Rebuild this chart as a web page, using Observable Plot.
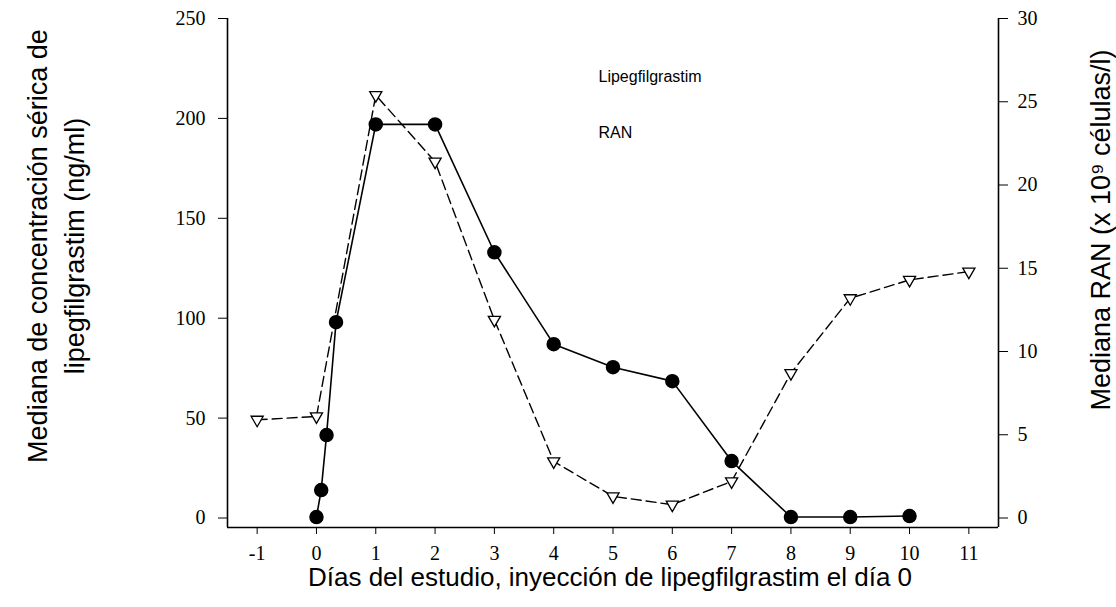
<!DOCTYPE html>
<html>
<head>
<meta charset="utf-8">
<script src="https://cdn.jsdelivr.net/npm/d3@7"></script>
<script src="https://cdn.jsdelivr.net/npm/@observablehq/plot@0.6"></script>
<style>
  html, body { margin: 0; padding: 0; background: #fff; }
  #chart { width: 1116px; height: 607px; }
</style>
</head>
<body>
<div id="chart"></div>
<script>
// Lipegfilgrastim serum concentration (ng/ml), left axis
const lipegDays = [0, 0.08, 0.17, 0.33, 1, 2, 3, 4, 5, 6, 7, 8, 9, 10];
const lipegValues = [0.5, 14, 41.5, 98, 197, 197, 133, 87, 75.5, 68.5, 28.5, 0.5, 0.5, 1];

// Median ANC / RAN (x 10^9 cells/l), right axis
const ranDays = [-1, 0, 1, 2, 3, 4, 5, 6, 7, 8, 9, 10, 11];
const ranValues = [5.9, 6.1, 25.4, 21.4, 11.9, 3.4, 1.3, 0.8, 2.2, 8.7, 13.2, 14.3, 14.8];

const xTicks = [-1, 0, 1, 2, 3, 4, 5, 6, 7, 8, 9, 10, 11];
const leftTicks = [0, 50, 100, 150, 200, 250];
const rightTicks = [0, 5, 10, 15, 20, 25, 30];

const legendLabels = ["Lipegfilgrastim", "RAN"];
const xTitle = "Días del estudio, inyección de lipegfilgrastim el día 0";
const yLeftTitle = ["Mediana de concentración sérica de", "lipegfilgrastim (ng/ml)"];
const yRightTitle = "Mediana RAN (x 10⁹ células/l)";

const xDomain = [-1.5, 11.5];
const yDomain = [-4.75, 250];
const k = 250 / 30; // right-axis units to left-axis units

const lipeg = lipegDays.map((d, i) => ({day: d, value: lipegValues[i]}));
const ran = ranDays.map((d, i) => ({day: d, value: ranValues[i] * k}));

const serif = "Liberation Serif, Times New Roman, serif";
const sans = "Liberation Sans, Arial, sans-serif";

const chart = Plot.plot({
  width: 1116,
  height: 607,
  marginLeft: 227,
  marginRight: 118,
  marginTop: 18,
  marginBottom: 80,
  style: {fontFamily: serif, fontSize: "20px", background: "#fff", color: "#000"},
  x: {domain: xDomain},
  y: {domain: yDomain},
  marks: [
    Plot.ruleX([xDomain[0], xDomain[1]], {stroke: "#000", strokeWidth: 1.6}),
    Plot.ruleY([yDomain[0]], {stroke: "#000", strokeWidth: 1.6}),
    Plot.axisX(xTicks, {anchor: "bottom", tickSize: 7, tickPadding: 11, tickFormat: d => String(d), label: null, fontFamily: serif, fontSize: 20}),
    Plot.axisY(leftTicks, {anchor: "left", tickSize: 9, tickPadding: 13, tickFormat: d => String(d), label: null, fontFamily: serif, fontSize: 20}),
    Plot.axisY(rightTicks.map(r => r * k), {anchor: "right", tickSize: 9, tickPadding: 10, tickFormat: d => String(Math.round(d / k)), label: null, fontFamily: serif, fontSize: 20}),
    Plot.line(ran, {x: "day", y: "value", stroke: "#000", strokeWidth: 1.4, strokeDasharray: "10,5"}),
    Plot.line(lipeg, {x: "day", y: "value", stroke: "#000", strokeWidth: 1.6}),
    Plot.dot(ran, {x: "day", y: "value", symbol: "triangle", rotate: 180, r: 4.5, fill: "#fff", stroke: "#000", strokeWidth: 1.3}),
    Plot.dot(lipeg, {x: "day", y: "value", r: 6.5, fill: "#000", stroke: "#000"}),
    Plot.text([legendLabels[0]], {frameAnchor: "top-left", text: d => d, dx: 371, dy: 52, textAnchor: "start", fontFamily: sans, fontSize: 16}),
    Plot.text([legendLabels[1]], {frameAnchor: "top-left", text: d => d, dx: 371, dy: 108, textAnchor: "start", fontFamily: sans, fontSize: 16}),
    Plot.text([xTitle], {frameAnchor: "bottom", text: d => d, dx: -3, dy: 58, fontFamily: sans, fontSize: 26})
  ]
});

document.getElementById("chart").appendChild(chart);

// rotated axis titles
const svg = d3.select(chart);
const titles = svg.append("g")
  .attr("font-family", sans)
  .attr("font-size", 27)
  .attr("fill", "#000")
  .attr("text-anchor", "middle");
titles.append("text")
  .attr("transform", "translate(38,246) rotate(-90)")
  .attr("dy", "0.35em")
  .text(yLeftTitle[0]);
titles.append("text")
  .attr("transform", "translate(75,246) rotate(-90)")
  .attr("dy", "0.35em")
  .text(yLeftTitle[1]);
titles.append("text")
  .attr("transform", "translate(1101,230) rotate(-90)")
  .attr("dy", "0.35em")
  .text(yRightTitle);
</script>
</body>
</html>
